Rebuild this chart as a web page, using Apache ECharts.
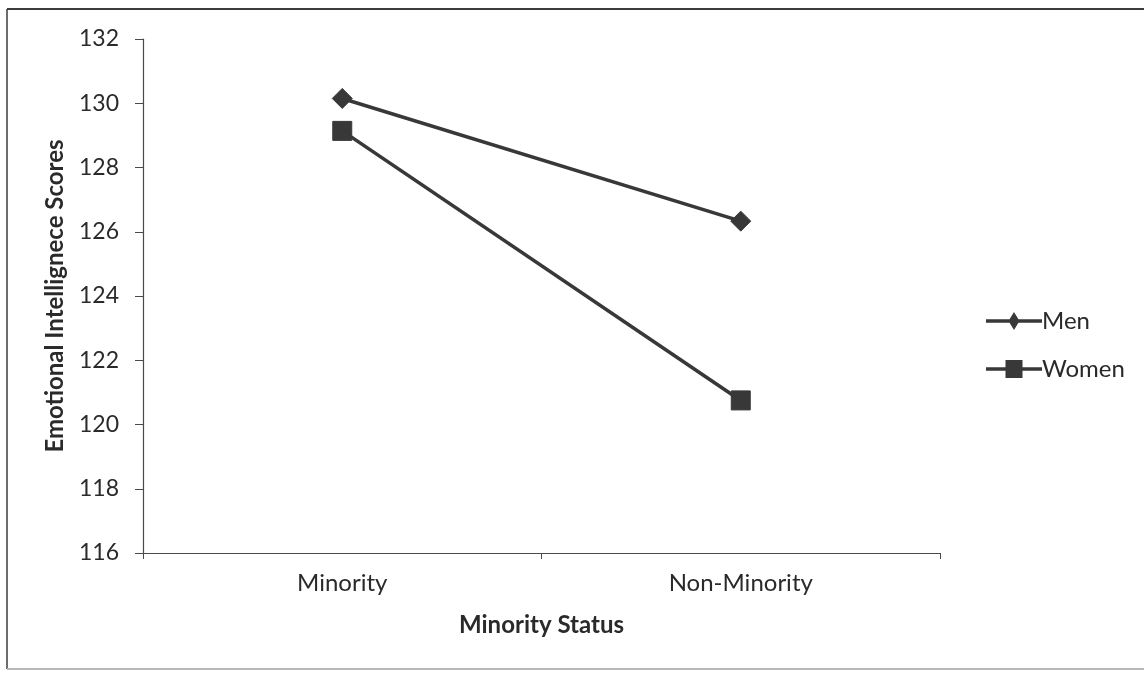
<!DOCTYPE html>
<html>
<head>
<meta charset="utf-8">
<style>
  html, body { margin: 0; padding: 0; background: #ffffff; }
  #chart { width: 1144px; height: 674px; }
</style>
<script src="https://cdn.jsdelivr.net/npm/echarts@6/dist/echarts.min.js"></script>
</head>
<body>
<div id="chart"></div>
<script>
// Emotional intelligence scores by minority status and gender
const categories = ['Minority', 'Non-Minority'];
const menScores = [130.15, 126.33];
const womenScores = [129.14, 120.75];
const yTicks = { min: 116, max: 132, interval: 2 };

const FONT = 'Lato, "Open Sans", sans-serif';
const INK = '#383838';
const TEXT = '#2a2a2a';

// legend keys: a thick line stroke with the series marker in the middle
const MEN_KEY = 'path://M0,7.2 L56,7.2 L56,10.8 L0,10.8 Z M28,0 L33.5,9 L28,18 L22.5,9 Z';
const WOMEN_KEY = 'path://M0,7.2 L56,7.2 L56,10.8 L0,10.8 Z M19.5,0 L36.5,0 L36.5,18 L19.5,18 Z';

const chart = echarts.init(document.getElementById('chart'), null, { renderer: 'canvas' });

chart.setOption({
  backgroundColor: '#ffffff',
  animation: false,
  grid: { left: 143, right: 204, top: 39, bottom: 121, containLabel: false },
  legend: {
    orient: 'vertical',
    left: 981,
    top: 304,
    itemWidth: 56,
    itemHeight: 18,
    itemGap: 24,
    textStyle: { fontFamily: FONT, fontSize: 24, color: TEXT, padding: [0, 0, 0, -5] },
    data: [
      { name: 'Men', icon: MEN_KEY },
      { name: 'Women', icon: WOMEN_KEY }
    ]
  },
  xAxis: {
    type: 'category',
    data: categories,
    boundaryGap: true,
    name: 'Minority Status',
    nameLocation: 'middle',
    nameGap: 60,
    nameTextStyle: { fontFamily: FONT, fontSize: 24, fontWeight: 'bold', color: TEXT },
    axisLine: { lineStyle: { color: '#4a4a4a', width: 1.2 } },
    axisTick: { show: true, length: 6, lineStyle: { color: '#4a4a4a' } },
    axisLabel: { fontFamily: FONT, fontSize: 24, color: TEXT, margin: 18 }
  },
  yAxis: {
    type: 'value',
    min: yTicks.min,
    max: yTicks.max,
    interval: yTicks.interval,
    name: 'Emotional Intellignece Scores',
    nameLocation: 'middle',
    nameGap: 76,
    nameRotate: 90,
    nameTextStyle: { fontFamily: FONT, fontSize: 24, fontWeight: 'bold', color: TEXT },
    axisLine: { show: true, lineStyle: { color: '#4a4a4a', width: 1.2 } },
    axisTick: { show: true, length: 8, lineStyle: { color: '#4a4a4a' } },
    axisLabel: { fontFamily: FONT, fontSize: 23, color: TEXT, margin: 24 },
    splitLine: { show: false }
  },
  series: [
    {
      name: 'Men',
      type: 'line',
      data: menScores,
      symbol: 'diamond',
      symbolSize: 20,
      lineStyle: { color: INK, width: 3.6 },
      itemStyle: { color: INK, borderColor: INK }
    },
    {
      name: 'Women',
      type: 'line',
      data: womenScores,
      symbol: 'rect',
      symbolSize: 19,
      lineStyle: { color: INK, width: 3.6 },
      itemStyle: { color: INK, borderColor: INK }
    }
  ],
  graphic: [
    // chart frame
    { type: 'line', shape: { x1: 7, y1: 9, x2: 1144, y2: 9 }, style: { stroke: '#3c3c3c', lineWidth: 2 } },
    { type: 'line', shape: { x1: 7, y1: 9, x2: 7, y2: 669 }, style: { stroke: '#3c3c3c', lineWidth: 1.5 } },
    { type: 'line', shape: { x1: 7, y1: 669, x2: 1144, y2: 669 }, style: { stroke: '#b8b8b8', lineWidth: 2 } }
  ]
});
</script>
</body>
</html>
